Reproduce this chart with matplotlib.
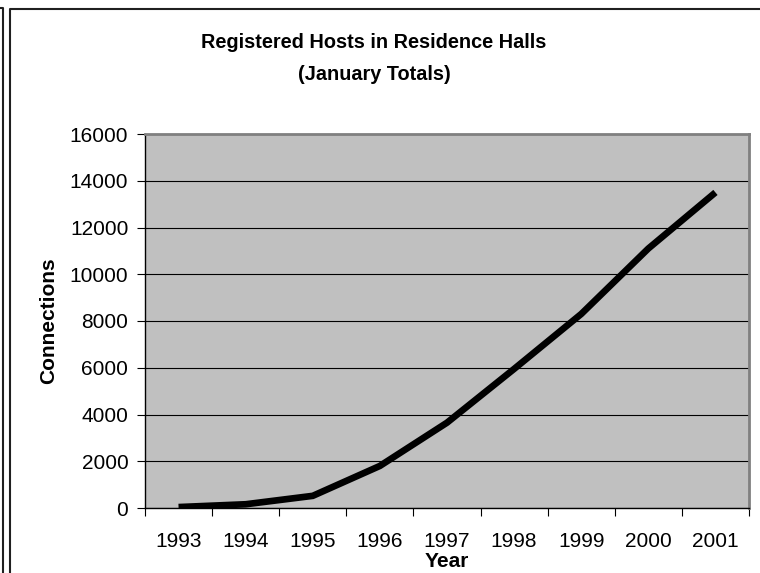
import matplotlib
matplotlib.use("Agg")
import matplotlib.pyplot as plt
from matplotlib.lines import Line2D

plt.rcParams['font.family'] = ['Liberation Sans', 'DejaVu Sans']

years = ['1993', '1994', '1995', '1996', '1997', '1998', '1999', '2000', '2001']
connections = [40, 160, 520, 1800, 3650, 5950, 8300, 11100, 13500]
yticks = [0, 2000, 4000, 6000, 8000, 10000, 12000, 14000, 16000]

W, H = 760, 573
fig = plt.figure(figsize=(W / 100, H / 100), dpi=100)
fig.patch.set_facecolor('white')

def px(x, y):
    return x / W, 1 - y / H

# plot area in pixel coordinates
left, top, right, bottom = 145, 134, 749, 508
ax = fig.add_axes([left / W, 1 - bottom / H, (right - left) / W, (bottom - top) / H])
ax.set_facecolor('#C0C0C0')

pos = list(range(1, len(years) + 1))
ax.plot(pos, connections, color='black', linewidth=4.8,
        solid_capstyle='butt', solid_joinstyle='miter', zorder=3)

ax.set_xlim(0.5, len(years) + 0.5)
ax.set_ylim(0, 16000)
ax.set_yticks(yticks)
ax.set_yticklabels([str(v) for v in yticks])
ax.yaxis.grid(True, color='black', linewidth=0.8)
ax.set_axisbelow(True)

# x ticks at category boundaries, labels at centres
ax.set_xticks([p - 0.5 for p in pos] + [len(years) + 0.5])
ax.set_xticklabels([])
ax.set_xticks(pos, minor=True)
ax.set_xticklabels(years, minor=True)
ax.tick_params(axis='x', which='minor', length=0, pad=17, labelsize=15)
ax.tick_params(axis='x', which='major', length=6, width=0.8, direction='out')
ax.tick_params(axis='y', length=6, width=0.8, direction='out', pad=6, labelsize=15)

for s in ['top', 'right']:
    ax.spines[s].set_color('#808080')
    ax.spines[s].set_linewidth(2)
for s in ['left', 'bottom']:
    ax.spines[s].set_color('black')
    ax.spines[s].set_linewidth(1)

ax.set_ylabel('Connections', fontsize=15, fontweight='bold', labelpad=8)
ax.set_xlabel('Year', fontsize=15, fontweight='bold', labelpad=1)

# titles
fig.text(*px(374, 42), 'Registered Hosts in Residence Halls', ha='center', va='center',
         fontsize=14.3, fontweight='bold')
fig.text(*px(374, 74), '(January Totals)', ha='center', va='center',
         fontsize=14.3, fontweight='bold')

# border frames
frame_color = '#202020'
fig.add_artist(Line2D([px(0, 8)[0], px(2.5, 8)[0], px(2.5, 573)[0]],
                      [px(0, 8)[1], px(2.5, 8)[1], px(2.5, 573)[1]],
                      color=frame_color, linewidth=1.5))
fig.add_artist(Line2D([px(9.5, 573)[0], px(9.5, 8.5)[0], px(760, 8.5)[0]],
                      [px(9.5, 573)[1], px(9.5, 8.5)[1], px(760, 8.5)[1]],
                      color=frame_color, linewidth=1.5))

fig.savefig('out.png', dpi=100)
